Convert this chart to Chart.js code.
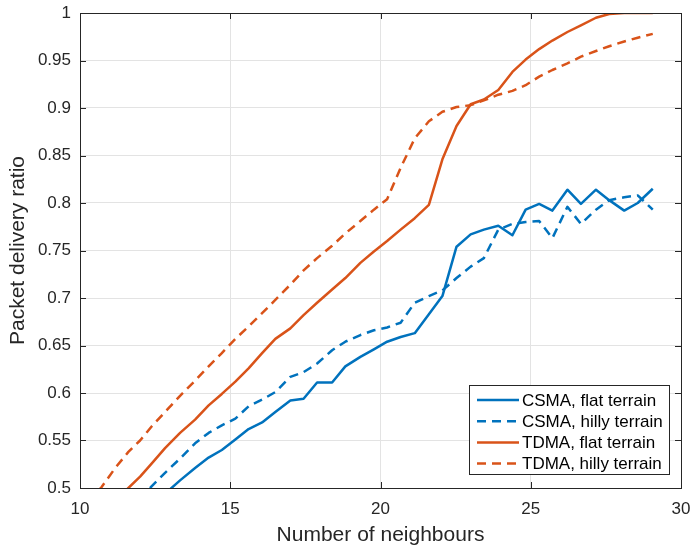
<!DOCTYPE html>
<html>
<head>
<meta charset="utf-8">
<script src="https://cdn.jsdelivr.net/npm/chart.js@4"></script>
<style>
  html, body { margin: 0; padding: 0; background: #fff; }
  #wrap { width: 693px; height: 553px; }
</style>
</head>
<body>
<div id="wrap"><canvas id="pdrChart" width="693" height="553"></canvas></div>
<script>
// average number of neighbours (x) shared by all four runs
const neighbours = [10.28, 10.72, 11.17, 11.61, 12.0, 12.39, 12.83, 13.33, 13.83, 14.28, 14.72, 15.17, 15.61, 16.06, 16.5, 17.0, 17.44, 17.89, 18.39, 18.83, 19.33, 19.78, 20.22, 20.67, 21.14, 21.61, 22.06, 22.53, 23.0, 23.44, 23.92, 24.39, 24.83, 25.28, 25.72, 26.22, 26.67, 27.17, 27.61, 28.11, 28.56, 29.06];

const csmaFlat = [null, null, null, null, null, null, 0.494, 0.508, 0.521, 0.532, 0.540, 0.551, 0.562, 0.569, 0.580, 0.592, 0.594, 0.611, 0.611, 0.628, 0.638, 0.646, 0.654, 0.659, 0.663, 0.683, 0.702, 0.754, 0.767, 0.772, 0.776, 0.766, 0.793, 0.799, 0.792, 0.814, 0.799, 0.814, 0.803, 0.792, 0.800, 0.815];
const csmaHilly = [null, null, null, null, 0.488, 0.502, 0.516, 0.531, 0.547, 0.558, 0.566, 0.573, 0.586, 0.593, 0.601, 0.617, 0.622, 0.631, 0.645, 0.654, 0.661, 0.666, 0.669, 0.674, 0.695, 0.702, 0.708, 0.721, 0.733, 0.742, 0.772, 0.778, 0.780, 0.781, 0.763, 0.796, 0.778, 0.793, 0.803, 0.806, 0.808, 0.793];
const tdmaFlat = [null, null, 0.487, 0.500, 0.512, 0.526, 0.542, 0.558, 0.572, 0.587, 0.599, 0.612, 0.626, 0.642, 0.657, 0.668, 0.682, 0.695, 0.709, 0.721, 0.737, 0.749, 0.760, 0.772, 0.784, 0.798, 0.846, 0.881, 0.904, 0.909, 0.919, 0.938, 0.951, 0.962, 0.971, 0.980, 0.987, 0.995, 0.999, 1.0, 1.0, 1.0];
const tdmaHilly = [0.486, 0.501, 0.521, 0.538, 0.550, 0.565, 0.580, 0.597, 0.613, 0.628, 0.642, 0.657, 0.670, 0.684, 0.698, 0.714, 0.729, 0.742, 0.755, 0.768, 0.781, 0.793, 0.804, 0.837, 0.868, 0.886, 0.896, 0.901, 0.903, 0.908, 0.914, 0.918, 0.924, 0.933, 0.940, 0.947, 0.954, 0.960, 0.965, 0.970, 0.974, 0.978];

const seriesLabels = ['CSMA, flat terrain', 'CSMA, hilly terrain', 'TDMA, flat terrain', 'TDMA, hilly terrain'];

const BLUE = '#0072BD';
const ORANGE = '#D95319';
const AXIS = '#262626';
const FONT = '"Liberation Sans", Arial, Helvetica, sans-serif';
const DASH = [9, 6];

function pts(ys) {
  return neighbours.map((x, i) => ({ x: x, y: ys[i] }));
}

function line(label, ys, color, dashed) {
  return {
    label: label,
    data: pts(ys),
    borderColor: color,
    backgroundColor: color,
    borderWidth: 2.5,
    borderDash: dashed ? DASH : [],
    borderJoinStyle: 'round',
    pointRadius: 0,
    tension: 0,
    fill: false
  };
}

// box around the axes with inward ticks on all four sides (matlab look)
const boxPlugin = {
  id: 'box',
  afterDatasetsDraw(chart) {
    const { ctx, chartArea: a, scales } = chart;
    const len = 6;
    ctx.save();
    ctx.strokeStyle = AXIS;
    ctx.lineWidth = 1;
    ctx.beginPath();
    scales.x.ticks.forEach(t => {
      const px = Math.round(scales.x.getPixelForValue(t.value)) + 0.5;
      ctx.moveTo(px, a.bottom); ctx.lineTo(px, a.bottom - len);
      ctx.moveTo(px, a.top); ctx.lineTo(px, a.top + len);
    });
    scales.y.ticks.forEach(t => {
      const py = Math.round(scales.y.getPixelForValue(t.value)) + 0.5;
      ctx.moveTo(a.left, py); ctx.lineTo(a.left + len, py);
      ctx.moveTo(a.right, py); ctx.lineTo(a.right - len, py);
    });
    ctx.stroke();
    ctx.strokeRect(Math.round(a.left) + 0.5, Math.round(a.top) + 0.5,
      Math.round(a.right - a.left), Math.round(a.bottom - a.top));
    ctx.restore();
  }
};

// legend box in the lower right of the plot
const legendPlugin = {
  id: 'insideLegend',
  afterDraw(chart) {
    const { ctx, chartArea: a } = chart;
    const w = 200, h = 89;
    const x0 = a.right - 12 - w;
    const y0 = a.bottom - 14 - h;
    ctx.save();
    ctx.fillStyle = '#fff';
    ctx.fillRect(x0, y0, w, h);
    ctx.strokeStyle = AXIS;
    ctx.lineWidth = 1;
    ctx.strokeRect(Math.round(x0) + 0.5, Math.round(y0) + 0.5, w, h);
    ctx.font = '17px ' + FONT;
    ctx.textBaseline = 'middle';
    chart.data.datasets.forEach((ds, i) => {
      const yy = y0 + 15 + i * 21.2;
      ctx.strokeStyle = ds.borderColor;
      ctx.lineWidth = ds.borderWidth;
      ctx.setLineDash(ds.borderDash);
      ctx.beginPath();
      ctx.moveTo(x0 + 8, yy);
      ctx.lineTo(x0 + 50, yy);
      ctx.stroke();
      ctx.setLineDash([]);
      ctx.fillStyle = '#000';
      ctx.fillText(ds.label, x0 + 53, yy + 1);
    });
    ctx.restore();
  }
};

const ctx = document.getElementById('pdrChart').getContext('2d');

const pdrChart = new Chart(ctx, {
  type: 'line',
  data: {
    datasets: [
      line(seriesLabels[0], csmaFlat, BLUE, false),
      line(seriesLabels[1], csmaHilly, BLUE, true),
      line(seriesLabels[2], tdmaFlat, ORANGE, false),
      line(seriesLabels[3], tdmaHilly, ORANGE, true)
    ]
  },
  options: {
    responsive: false,
    animation: false,
    devicePixelRatio: 1,
    layout: { padding: { left: 0, right: 12, top: 13, bottom: 0 } },
    plugins: {
      legend: { display: false },
      tooltip: { enabled: false }
    },
    scales: {
      x: {
        type: 'linear',
        min: 10,
        max: 30,
        border: { display: false },
        grid: { color: '#e3e3e3', lineWidth: 1, drawTicks: false },
        ticks: { stepSize: 5, padding: 11, color: AXIS, font: { family: FONT, size: 17 }, maxRotation: 0 },
        title: { display: true, text: 'Number of neighbours', color: AXIS, font: { family: FONT, size: 21 }, padding: { top: 0, bottom: 5 } },
        afterFit(scale) {
          scale.height = 65;
          scale.paddingLeft = 0;
          scale.paddingRight = 0;
        }
      },
      y: {
        type: 'linear',
        min: 0.5,
        max: 1,
        border: { display: false },
        grid: { color: '#e3e3e3', lineWidth: 1, drawTicks: false },
        ticks: {
          stepSize: 0.05,
          padding: 9,
          color: AXIS,
          font: { family: FONT, size: 17 },
          callback: v => String(Number(v.toFixed(2)))
        },
        title: { display: true, text: 'Packet delivery ratio', color: AXIS, font: { family: FONT, size: 21 }, padding: { top: 6, bottom: 0 } },
        afterFit(scale) {
          scale.width = 80;
          scale.paddingTop = 0;
          scale.paddingBottom = 0;
        }
      }
    }
  },
  plugins: [boxPlugin, legendPlugin]
});
</script>
</body>
</html>
